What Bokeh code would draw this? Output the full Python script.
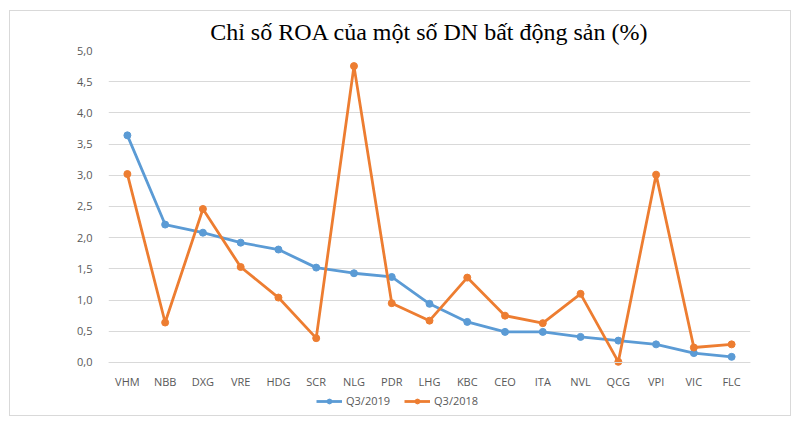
from bokeh.plotting import figure
from bokeh.models import FactorRange, Legend, LegendItem, Title, FixedTicker
from bokeh.embed import file_html
from bokeh.resources import INLINE

categories = ["VHM", "NBB", "DXG", "VRE", "HDG", "SCR", "NLG", "PDR", "LHG",
              "KBC", "CEO", "ITA", "NVL", "QCG", "VPI", "VIC", "FLC"]
q3_2019 = [3.64, 2.21, 2.08, 1.92, 1.81, 1.52, 1.43, 1.37, 0.94,
           0.65, 0.49, 0.49, 0.41, 0.35, 0.29, 0.15, 0.09]
q3_2018 = [3.02, 0.64, 2.46, 1.53, 1.04, 0.39, 4.75, 0.95, 0.67,
           1.36, 0.75, 0.63, 1.10, 0.01, 3.01, 0.24, 0.29]
y_ticks = [0.0, 0.5, 1.0, 1.5, 2.0, 2.5, 3.0, 3.5, 4.0, 4.5, 5.0]
y_tick_labels = ["0,0", "0,5", "1,0", "1,5", "2,0", "2,5", "3,0", "3,5", "4,0", "4,5", "5,0"]
title_text = "Chỉ số ROA của một số DN bất động sản (%)"

BLUE = "#5B9BD5"
ORANGE = "#ED7D31"
GRAY = "#595959"
FONT = "Open Sans"

p = figure(width=782, height=406, x_range=FactorRange(*categories, range_padding=0),
           y_range=(-0.77, 5.0), output_backend="svg", toolbar_location=None,
           min_border_left=98, min_border_right=42, min_border_top=39, min_border_bottom=7)
p.styles = {"border": "1px solid #d9d9d9", "margin-left": "9px", "margin-top": "10px"}

t = Title(text=title_text, align="center", text_font="Liberation Serif",
          text_font_size="24px", text_font_style="normal", text_color="#000000",
          standoff=11)
p.add_layout(t, "above")

p.outline_line_color = None
p.xgrid.grid_line_color = None
p.ygrid.grid_line_color = "#d9d9d9"
p.ygrid.grid_line_width = 1

p.yaxis.ticker = FixedTicker(ticks=y_ticks)
p.yaxis.major_label_overrides = {v: l for v, l in zip(y_ticks, y_tick_labels)}
p.yaxis.axis_line_color = None
p.yaxis.major_tick_line_color = None
p.yaxis.minor_tick_line_color = None
p.yaxis.major_label_text_font = FONT
p.yaxis.major_label_text_font_size = "11px"
p.yaxis.major_label_text_color = GRAY
p.yaxis.major_label_standoff = 10

p.xaxis.fixed_location = 0
p.xaxis.axis_line_color = "#d9d9d9"
p.xaxis.major_tick_line_color = None
p.xaxis.minor_tick_line_color = None
p.xaxis.major_label_text_font = FONT
p.xaxis.major_label_text_font_size = "11px"
p.xaxis.major_label_text_color = GRAY
p.xaxis.major_label_standoff = 6

l1 = p.line(categories, q3_2019, line_color=BLUE, line_width=2.8)
c1 = p.scatter(categories, q3_2019, size=7, fill_color=BLUE, line_color=BLUE)
l2 = p.line(categories, q3_2018, line_color=ORANGE, line_width=2.8)
c2 = p.scatter(categories, q3_2018, size=7, fill_color=ORANGE, line_color=ORANGE)

legend = Legend(items=[LegendItem(label="Q3/2019", renderers=[l1, c1]),
                       LegendItem(label="Q3/2018", renderers=[l2, c2])],
                orientation="horizontal", location=(208, 2),
                label_text_font=FONT, label_text_font_size="11px",
                label_text_color=GRAY, border_line_color=None,
                background_fill_alpha=0,
                glyph_width=26, glyph_height=12, spacing=14, padding=2,
                margin=0, label_standoff=4)
p.add_layout(legend, "center")

open("out.html", "w").write(file_html(p, INLINE))
